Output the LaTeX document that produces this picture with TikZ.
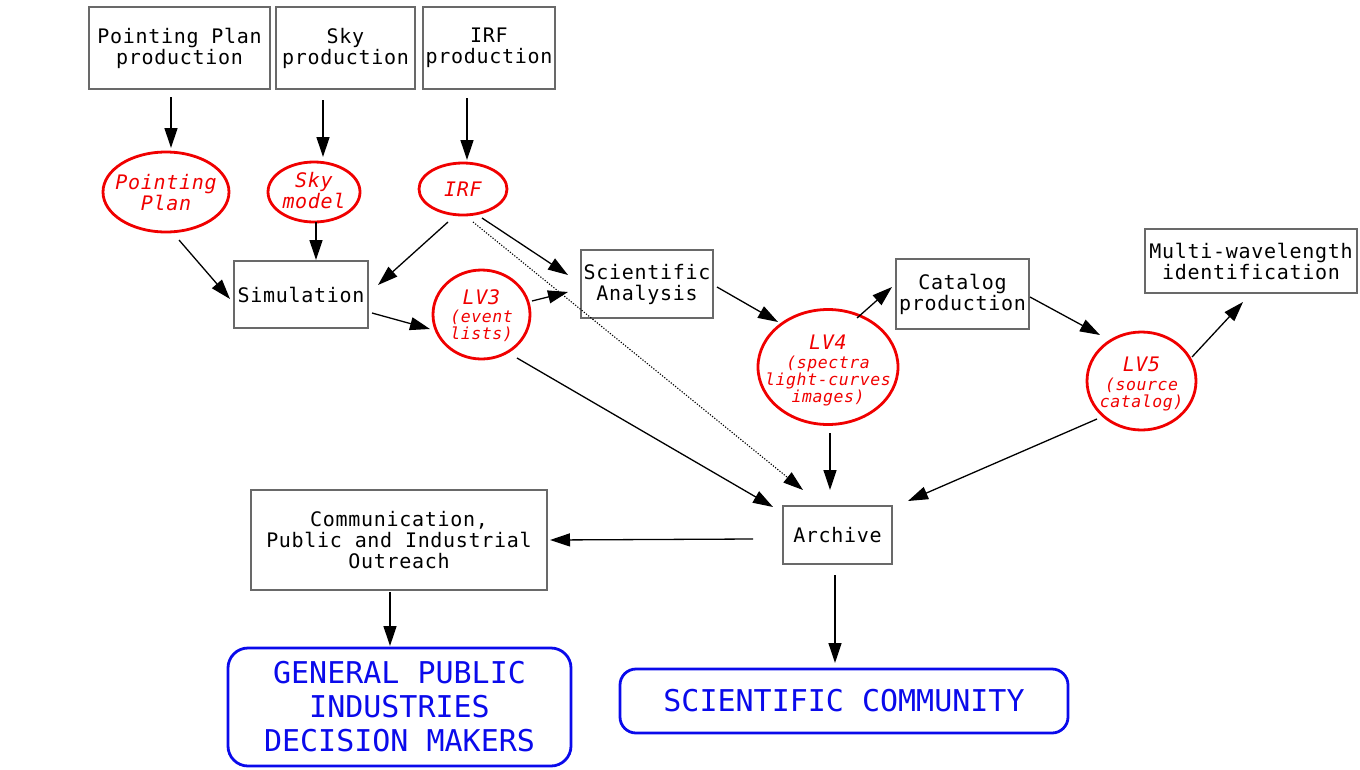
\documentclass[tikz,border=0pt]{standalone}
\usepackage{fontspec}
\newfontfamily\boxfont[LetterSpace=3.5]{DejaVu Sans Mono}
\newfontfamily\audfont{DejaVu Sans Mono}
\usetikzlibrary{shapes.geometric,arrows.meta,calc}
\definecolor{boxgray}{RGB}{105,105,105}
\definecolor{mred}{RGB}{240,0,0}
\definecolor{mblue}{RGB}{10,10,235}
\tikzset{
  procbox/.style={draw=boxgray,line width=1.6pt,rectangle,inner sep=0pt,align=center,
     font=\boxfont\fontsize{20}{21}\selectfont},
  prodell/.style={draw=mred,line width=2.8pt,ellipse,inner sep=0pt},
  redtext/.style={inner sep=0pt,align=center,text=mred,
     font=\boxfont\itshape\fontsize{20}{21}\selectfont},
  redsub/.style={inner sep=0pt,align=center,text=mred,
     font=\boxfont\itshape\fontsize{16.5}{17}\selectfont},
  audbox/.style={draw=mblue,line width=2.8pt,rectangle,rounded corners=20pt,inner sep=0pt,align=center,
     text=mblue,font=\audfont\fontsize{30}{34}\selectfont},
  arr/.style={line width=1.3pt,-{Triangle[length=20pt,width=13pt]}},
  dotarr/.style={line width=1.1pt,dash pattern=on 1.2pt off 1.6pt,-{Triangle[length=20pt,width=13pt]}}
}
\newcommand{\bigln}[1]{{\fontsize{20}{20}\selectfont #1}}
\begin{document}
\begin{tikzpicture}[x=1pt,y=-1pt]
\useasboundingbox (0,0) rectangle (1360,769);
% boxes
\node[procbox,minimum width=181pt,minimum height=82pt] (ppprod) at (179.5,48) {Pointing Plan\\production};
\node[procbox,minimum width=139pt,minimum height=82pt] (skyprod) at (345.5,48) {Sky\\production};
\node[procbox,minimum width=132pt,minimum height=82pt] (irfprod) at (489,48) {IRF\\production};
\node[procbox,minimum width=134pt,minimum height=67pt] (sim) at (301,294.5) {Simulation};
\node[procbox,minimum width=132pt,minimum height=68pt] (sci) at (647,284) {Scientific\\Analysis};
\node[procbox,minimum width=133pt,minimum height=70pt] (cat) at (962.5,294) {Catalog\\production};
\node[procbox,minimum width=212pt,minimum height=64pt] (multi) at (1251,261) {Multi-wavelength\\identification};
\node[procbox,minimum width=109pt,minimum height=58pt] (archive) at (837.5,535) {Archive};
\node[procbox,minimum width=296pt,minimum height=100pt] (comm) at (399,540) {Communication,\\Public and Industrial\\Outreach};
% products
\node[prodell,minimum width=126pt,minimum height=80pt] (ppplan) at (166,192) {};
\node[redtext] (ppplantxt) at (166,192.5) {Pointing\\Plan};
\node[prodell,minimum width=92pt,minimum height=60pt] (skymodel) at (314,192) {};
\node[redtext] (skymodeltxt) at (314,191) {Sky\\model};
\node[prodell,minimum width=88pt,minimum height=52pt] (irf) at (463,189) {};
\node[redtext] (irftxt) at (463,189) {IRF};
\node[prodell,minimum width=97pt,minimum height=89pt] (lv3) at (481.5,314.5) {};
\node[redsub] (lv3txt) at (481.5,315.5) {\bigln{LV3}\\[1.5pt](event\\lists)};
\node[prodell,minimum width=140pt,minimum height=115pt] (lv4) at (828,367) {};
\node[redsub] (lv4txt) at (828,370.5) {\bigln{LV4}\\[1.5pt](spectra\\light-curves\\images)};
\node[prodell,minimum width=109pt,minimum height=98pt] (lv5) at (1141.5,381) {};
\node[redsub] (lv5txt) at (1141.5,384) {\bigln{LV5}\\[1.5pt](source\\catalog)};
% audiences
\node[audbox,minimum width=343pt,minimum height=118pt] (gp) at (399.5,707) {GENERAL PUBLIC\\INDUSTRIES\\DECISION MAKERS};
\node[audbox,minimum width=448pt,minimum height=64pt,rounded corners=16pt] (sc) at (844,701) {SCIENTIFIC COMMUNITY};
% connectors
\draw[arr] ($(ppprod)+(-8.5,49)$) -- ($(ppplan)+(5,-44)$);
\draw[arr] ($(skyprod)+(-22.5,52)$) -- ($(skymodel)+(9,-35)$);
\draw[arr] ($(irfprod)+(-22,50)$) -- ($(irf)+(4,-29)$);
\draw[arr] ($(skymodel)+(2,30)$) -- ($(sim)+(15,-34.5)$);
\draw[arr] ($(ppplan)+(13,48)$) -- ($(sim)+(-71,4.5)$);
\draw[arr] ($(irf)+(-15,33)$) -- ($(sim)+(77,-9.5)$);
\draw[arr] ($(irf)+(19,29)$) -- ($(sci)+(-79,-9)$);
\draw[dotarr] ($(irf)+(10,33)$) -- ($(archive)+(-34.5,-45)$);
\draw[arr] ($(sim)+(71,18.5)$) -- ($(lv3)+(-51.5,14.5)$);
\draw[arr] ($(lv3)+(50.5,-13.5)$) -- ($(sci)+(-79,8)$);
\draw[arr] ($(lv3)+(35.5,43.5)$) -- ($(archive)+(-64.5,-28)$);
\draw[arr] ($(sci)+(70,3)$) -- ($(lv4)+(-50,-45)$);
\draw[arr] ($(lv4)+(29,-49)$) -- ($(cat)+(-70.5,-7)$);
\draw[arr] ($(cat)+(67.5,3)$) -- ($(lv5)+(-41.5,-46)$);
\draw[arr] ($(lv5)+(50.5,-24)$) -- ($(multi)+(-8,41)$);
\draw[arr] ($(lv4)+(2,66)$) -- ($(archive)+(-7.5,-45)$);
\draw[arr] ($(lv5)+(-44.5,38)$) -- ($(archive)+(70.5,-34)$);
\draw[arr] ($(archive)+(-84.5,4)$) -- ($(comm)+(151,0)$);
\draw[arr] ($(comm)+(-9,52)$) -- ($(gp)+(-9.5,-61)$);
\draw[arr] ($(archive)+(-2.5,40)$) -- ($(sc)+(-9,-38)$);
\end{tikzpicture}
\end{document}
